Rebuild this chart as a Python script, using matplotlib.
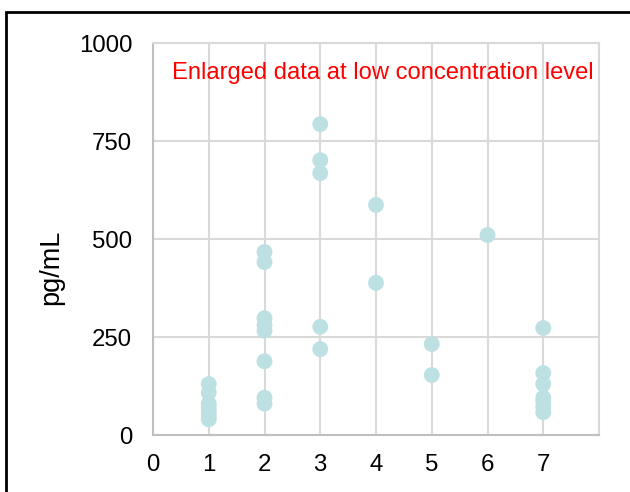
import matplotlib.pyplot as plt
from matplotlib.patches import Rectangle

plt.rcParams['font.family'] = ['Liberation Sans', 'DejaVu Sans']

# valores (pg/mL por grupo)
grupos = [1, 2, 3, 4, 5, 6, 7]
valores = [
    [130, 108, 80, 70, 60, 50, 40],
    [467, 441, 298, 280, 266, 188, 95, 80],
    [793, 701, 668, 276, 219],
    [587, 388],
    [232, 153],
    [510],
    [273, 158, 130, 95, 85, 72, 58],
]
xticks = [0, 1, 2, 3, 4, 5, 6, 7]
yticks = [0, 250, 500, 750, 1000]

fig = plt.figure(figsize=(6.3, 4.92), dpi=100)
ax = fig.add_axes([153/630, 1-435/492, 446/630, 392/492])

x = []
y = []
for g, vals in zip(grupos, valores):
    for v in vals:
        x.append(g)
        y.append(v)
ax.scatter(x, y, s=130, color='#bde0e3', edgecolors='none', zorder=3, clip_on=False)

ax.set_xlim(0, 8)
ax.set_ylim(0, 1000)
ax.set_xticks(xticks)
ax.set_yticks(yticks)
ax.set_xticks(range(0, 9), minor=True)
ax.grid(True, which='both', color='#d9d9d9', linewidth=1.5, zorder=0)
ax.set_axisbelow(True)
ax.tick_params(axis='both', which='both', length=0, labelsize=17.3)
ax.tick_params(axis='y', pad=15)
ax.tick_params(axis='x', pad=14)
for s in ax.spines.values():
    s.set_color('#d9d9d9')
    s.set_linewidth(1.5)
ax.spines['bottom'].set_color('#bfbfbf')
ax.spines['left'].set_color('#bfbfbf')

fig.text(51/630, 1-267/492, 'pg/mL', fontsize=19.5, rotation=90, ha='center', va='center')
ax.text(0.5146, 0.923, 'Enlarged data at low concentration level', color='red',
        fontsize=17.1, ha='center', va='center', transform=ax.transAxes)

# moldura preta
fig.patches.append(Rectangle((6/630, -0.1), 1.2, 1-12/492+0.1, transform=fig.transFigure,
                             fill=False, edgecolor='black', linewidth=2))

fig.savefig('out.png', dpi=100)
